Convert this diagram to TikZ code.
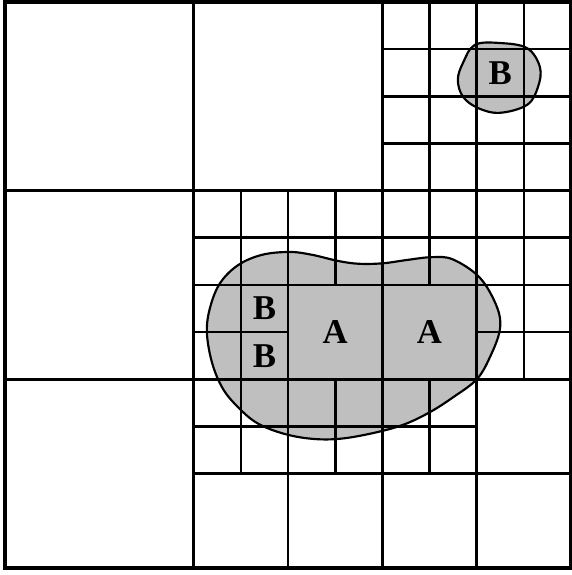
\documentclass[tikz,border=0pt]{standalone}
\usepackage{fontspec}
\setmainfont{Liberation Serif}
\usepackage{tikz}
\definecolor{blobgray}{gray}{0.75}

\begin{document}
\begin{tikzpicture}[
    cell/.style={line width=1.6pt},
    border/.style={line width=2.4pt},
    blob/.style={fill=blobgray, draw=black, line width=1.3pt},
    lab/.style={font=\fontsize{21}{23}\selectfont\bfseries, inner sep=0pt}
]
\useasboundingbox (-0.106,-0.148) rectangle (12.02,12.042);

\draw[blob] plot[smooth cycle, tension=0.6] coordinates {
    (4.28,5.0) (4.35,5.53) (4.56,6.04) (4.94,6.42) (5.45,6.64) (6.04,6.70)
    (6.51,6.64) (7.06,6.51) (7.5,6.45) (8.01,6.46) (8.52,6.53) (9.05,6.59)
    (9.50,6.54) (10.07,6.15) (10.43,5.53) (10.49,5.05) (10.28,4.47)
    (10.0,4.0) (9.50,3.62) (9.0,3.3) (8.45,3.04) (7.8,2.86) (7.1,2.74)
    (6.5,2.74) (5.9,2.85) (5.35,3.07) (4.95,3.4) (4.62,3.8) (4.39,4.35)};
\draw[blob] plot[smooth cycle, tension=0.6] coordinates {
    (9.96,11.09) (10.49,11.13) (11.07,11.02) (11.34,10.62) (11.30,10.20)
    (11.07,9.82) (10.49,9.65) (10.03,9.75) (9.71,9.99) (9.60,10.35) (9.71,10.71)};

\foreach \x in {4,8} \draw[cell] (\x,0) -- (\x,12);
\foreach \y in {4,8} \draw[cell] (0,\y) -- (12,\y);
\draw[cell] (6,0) -- (6,8);
\draw[cell] (10,0) -- (10,12);
\draw[cell] (4,6) -- (12,6);
\draw[cell] (8,10) -- (12,10);
\draw[cell] (4,2) -- (12,2);

\draw[cell] (5,2) -- (5,8);
\draw[cell] (7,2) -- (7,4) (7,6) -- (7,8);
\draw[cell] (9,2) -- (9,4) (9,6) -- (9,12);
\draw[cell] (11,4) -- (11,12);
\draw[cell] (4,3) -- (10,3);
\draw[cell] (4,5) -- (6,5) (10,5) -- (12,5);
\draw[cell] (4,7) -- (12,7);
\foreach \y in {9,11} \draw[cell] (8,\y) -- (12,\y);

\draw[border] (0,0) rectangle (12,12);

\node[lab] (b1) at (10.5,10.5) {B};
\node[lab] (b2) at (5.5,5.5) {B};
\node[lab] (b3) at (5.5,4.5) {B};
\node[lab] (a1) at (7,5) {A};
\node[lab] (a2) at (9,5) {A};
\end{tikzpicture}
\end{document}
